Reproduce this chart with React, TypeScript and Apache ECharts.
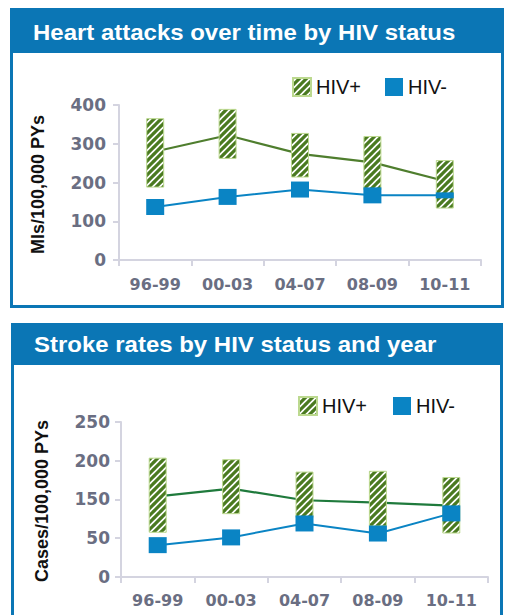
import React, { useEffect, useRef } from "react";
import * as echarts from "echarts";

const categories = ["96-99", "00-03", "04-07", "08-09", "10-11"];

// Heart attacks (MIs / 100,000 PYs)
const miHivPosLow = [187, 261, 213, 180, 133];
const miHivPosHigh = [366, 390, 328, 320, 258];
const miHivPosRate = [280, 322, 274, 252, 204];
const miHivNegRate = [137, 163, 182, 167, 167];
const miTickValues = [0, 100, 200, 300, 400];
const miTickLabels = ["0", "100", "200", "300", "400"];

// Stroke (axis positions; the printed labels skip "100")
const stHivPosLow = [57, 81, 76, 65, 56];
const stHivPosHigh = [154, 152, 136, 137, 129];
const stHivPosRate = [104, 114, 99, 96, 92];
const stHivNegRate = [41, 51, 69, 56, 82];
const stTickValues = [0, 50, 100, 150, 200];
const stTickLabels = ["0", "50", "150", "200", "250"];

const titles = ["Heart attacks over time by HIV status", "Stroke rates by HIV status and year"];
const yNames = ["MIs/100,000 PYs", "Cases/100,000 PYs"];

const BLUE = "#0b76b5";
const NEG = "#0a84c4";
const HATCH = "#4a7a20";
const HATCH_BORDER = "#bcd98f";
const AXIS = "#d4d4e0";
const TICK_TEXT = "#6a6e82";

function makeHatch() {
  const s = 7;
  const c = document.createElement("canvas");
  c.width = s;
  c.height = s;
  const ctx = c.getContext("2d")!;
  ctx.fillStyle = "#ffffff";
  ctx.fillRect(0, 0, s, s);
  ctx.strokeStyle = HATCH;
  ctx.lineWidth = 3.2;
  ctx.lineCap = "square";
  ctx.beginPath();
  for (const k of [-s, 0, s]) {
    ctx.moveTo(k - 1, s + 1);
    ctx.lineTo(k + s + 1, -1);
  }
  ctx.stroke();
  return c;
}

export default function App() {
  const ref = useRef<HTMLDivElement>(null);
  useEffect(() => {
    document.body.style.margin = "0";
    const chart = echarts.init(ref.current!, null, { renderer: "svg" });
    const hatch = { image: makeHatch(), repeat: "repeat" } as any;

    const xAxisBase = (gridIndex: number, margin: number) => ({
      type: "category",
      gridIndex,
      data: categories,
      boundaryGap: true,
      axisLine: { lineStyle: { color: AXIS, width: 2 } },
      axisTick: { show: true, length: 6, lineStyle: { color: AXIS, width: 2 } },
      axisLabel: {
        margin,
        color: TICK_TEXT,
        fontFamily: "DejaVu Sans",
        fontWeight: "bold",
        fontSize: 16,
      },
    });
    const yAxisBase = (
      gridIndex: number,
      min: number,
      max: number,
      vals: number[],
      labels: string[],
      name: string,
      nameGap: number,
      margin: number
    ) => ({
      type: "value",
      gridIndex,
      min,
      max,
      name,
      nameLocation: "middle",
      nameRotate: 90,
      nameGap,
      nameTextStyle: {
        color: "#111",
        fontFamily: "Liberation Sans",
        fontWeight: "bold",
        fontSize: 18,
      },
      splitLine: { show: false },
      axisLine: { show: true, lineStyle: { color: AXIS, width: 2 } },
      axisTick: { show: true, length: 6, customValues: vals, lineStyle: { color: AXIS, width: 2 } },
      axisLabel: {
        margin,
        customValues: vals,
        formatter: (v: number) => {
          const i = vals.indexOf(v);
          return i >= 0 ? labels[i] : "";
        },
        color: TICK_TEXT,
        fontFamily: "DejaVu Sans",
        fontWeight: "bold",
        fontSize: 17,
      },
    });

    const rangeSeries = (idx: number, low: number[], high: number[], stack: string) => [
      {
        name: "base" + idx,
        type: "bar",
        xAxisIndex: idx,
        yAxisIndex: idx,
        stack,
        barWidth: 18,
        silent: true,
        itemStyle: { color: "transparent" },
        data: low,
        z: 3,
      },
      {
        name: "HIV+",
        type: "bar",
        xAxisIndex: idx,
        yAxisIndex: idx,
        stack,
        barWidth: 18,
        itemStyle: { color: hatch, borderColor: HATCH_BORDER, borderWidth: 1 },
        data: high.map((h, i) => h - low[i]),
        z: 3,
      },
    ];

    const legendBase = (left: number, top: number, gap: number) => ({
      left,
      top,
      padding: 0,
      orient: "horizontal",
      itemWidth: 18,
      itemHeight: 18,
      itemGap: gap,
      selectedMode: false,
      textStyle: { color: "#111", fontFamily: "Liberation Sans", fontSize: 20 },
      data: [
        { name: "HIV+", icon: "rect" },
        { name: "HIV-", icon: "rect" },
      ],
    });

    chart.setOption({
      animation: false,
      backgroundColor: "#ffffff",
      grid: [
        { left: 119, right: 26, top: 105, height: 159 },
        { left: 121, right: 19, top: 422, height: 158 },
      ],
      legend: [legendBase(292, 77, 24), legendBase(298, 396, 26)],
      xAxis: [xAxisBase(0, 12), xAxisBase(1, 12)],
      yAxis: [
        yAxisBase(0, -10, 400, miTickValues, miTickLabels, yNames[0], 72, 13),
        yAxisBase(1, -4, 200, stTickValues, stTickLabels, yNames[1], 70, 11),
      ],
      series: [
        {
          name: "HIV+ rate MI",
          type: "line",
          xAxisIndex: 0,
          yAxisIndex: 0,
          data: miHivPosRate,
          showSymbol: false,
          symbol: "none",
          lineStyle: { color: "#4f7e2e", width: 2.2 },
          itemStyle: { color: "#4f7e2e" },
          z: 2,
        },
        ...rangeSeries(0, miHivPosLow, miHivPosHigh, "mi"),
        {
          name: "HIV-",
          type: "line",
          xAxisIndex: 0,
          yAxisIndex: 0,
          data: miHivNegRate.map((v, i) => (i === 4 ? { value: v, symbolSize: [18, 6] } : v)),
          symbol: "rect",
          symbolSize: [18, 16],
          lineStyle: { color: NEG, width: 2 },
          itemStyle: { color: NEG },
          z: 4,
        },
        {
          name: "HIV+ rate stroke",
          type: "line",
          xAxisIndex: 1,
          yAxisIndex: 1,
          data: stHivPosRate,
          showSymbol: false,
          symbol: "none",
          lineStyle: { color: "#1f7a3c", width: 2.2 },
          itemStyle: { color: "#1f7a3c" },
          z: 2,
        },
        ...rangeSeries(1, stHivPosLow, stHivPosHigh, "st"),
        {
          name: "HIV-",
          type: "line",
          xAxisIndex: 1,
          yAxisIndex: 1,
          data: stHivNegRate,
          symbol: "rect",
          symbolSize: [18, 16],
          lineStyle: { color: NEG, width: 2 },
          itemStyle: { color: NEG },
          z: 4,
        },
      ],
      graphic: [
        { type: "rect", silent: true, z: 0, shape: { x: 10, y: 8, width: 494, height: 45 }, style: { fill: BLUE } },
        {
          type: "rect",
          silent: true,
          z: 0,
          shape: { x: 11.5, y: 9.5, width: 491, height: 297 },
          style: { fill: "none", stroke: BLUE, lineWidth: 3 },
        },
        {
          type: "text",
          silent: true,
          z: 1,
          x: 33,
          y: 32,
          scaleX: 1.09,
          style: {
            text: titles[0],
            fill: "#ffffff",
            font: 'bold 22px "Liberation Sans", Arial, sans-serif',
            verticalAlign: "middle",
          },
        },
        { type: "rect", silent: true, z: 0, shape: { x: 11, y: 323, width: 492, height: 42 }, style: { fill: BLUE } },
        {
          type: "rect",
          silent: true,
          z: 0,
          shape: { x: 12.5, y: 324.5, width: 489, height: 320 },
          style: { fill: "none", stroke: BLUE, lineWidth: 3 },
        },
        {
          type: "text",
          silent: true,
          z: 1,
          x: 34,
          y: 344,
          scaleX: 1.09,
          style: {
            text: titles[1],
            fill: "#ffffff",
            font: 'bold 22px "Liberation Sans", Arial, sans-serif',
            verticalAlign: "middle",
          },
        },
      ],
    });
    return () => chart.dispose();
  }, []);
  return <div ref={ref} style={{ width: 507, height: 615 }} />;
}
